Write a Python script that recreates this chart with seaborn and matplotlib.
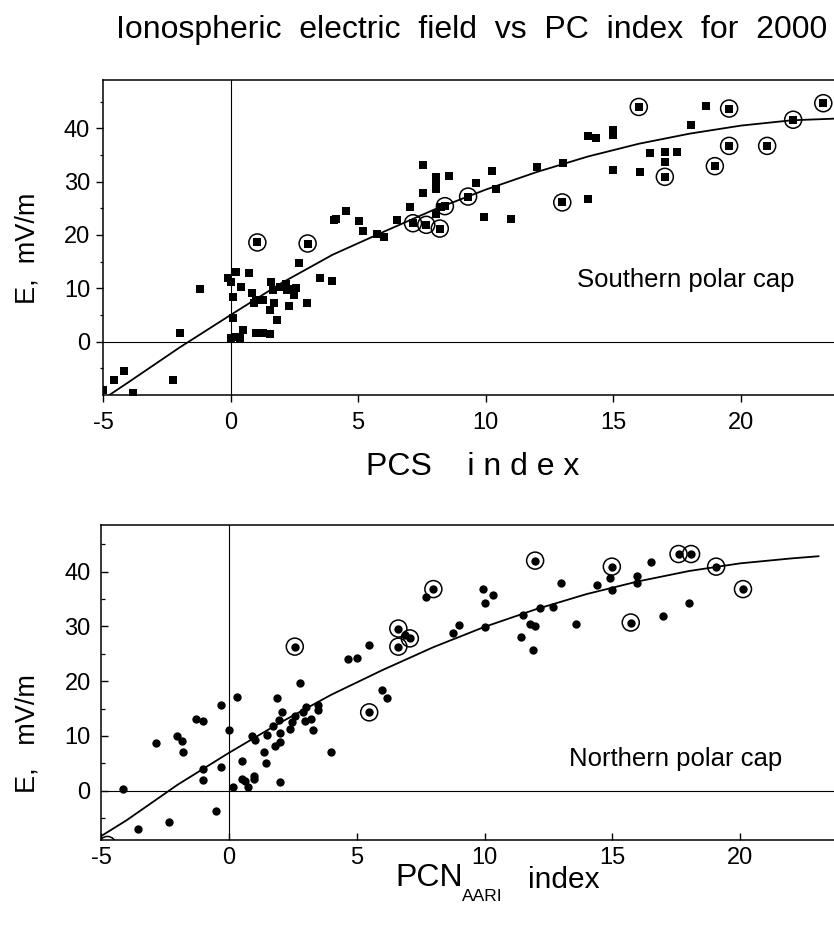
import numpy as np
import pandas as pd
import matplotlib
matplotlib.use("Agg")
import matplotlib.pyplot as plt
import seaborn as sns

# ---------------- data ----------------
# Southern polar cap (squares)
south_x = [-5.0, -4.55, -4.16, -3.83, -2.24, -2.0, -1.18, -0.09, 0.0, 0.2, 0.09, 0.42, 0.72, 0.09,
           0.0, 0.22, 0.35, 0.5, 0.84, 0.9, 1.0, 1.27, 1.0, 1.27, 1.53, 1.6, 1.66, 1.56, 1.72, 1.8,
           1.92, 2.16, 2.2, 2.35, 2.5, 2.5, 2.58, 2.3, 2.7, 3.0, 3.52, 3.99, 4.04, 4.14, 4.54, 5.02,
           5.2, 5.74, 6.0, 6.52, 7.02, 7.54, 7.54, 8.04, 8.04, 8.04, 8.55, 8.07, 8.26, 9.63, 10.26,
           10.42, 9.92, 11.0, 12.0, 13.03, 14.01, 14.01, 14.34, 15.0, 15.0, 15.0, 16.04, 16.43,
           17.02, 17.02, 17.5, 18.04, 18.63]
south_e = [-9.1, -7.1, -5.5, -9.6, -7.1, 1.6, 9.8, 11.9, 11.1, 13.1, 8.4, 10.3, 12.9, 4.4,
           0.6, 0.9, 0.6, 2.2, 9.2, 7.2, 7.8, 7.9, 1.7, 1.6, 1.4, 11.25, 9.7, 5.9, 7.2, 4.1,
           10.3, 10.9, 9.7, 9.8, 9.7, 8.75, 10.0, 6.6, 14.8, 7.2, 11.9, 11.4, 22.8, 22.9, 24.4, 22.7,
           20.8, 20.2, 19.7, 22.8, 25.3, 33.1, 27.9, 30.9, 29.4, 28.6, 31.1, 24.0, 25.3, 29.7, 31.9,
           28.6, 23.4, 23.0, 32.7, 33.4, 26.7, 38.6, 38.1, 39.7, 38.7, 32.2, 31.8, 35.3,
           35.6, 33.7, 35.6, 40.7, 44.2]
south_circ_x = [1.05, 3.02, 7.15, 7.67, 8.2, 8.4, 9.31, 13.0, 16.0, 17.02, 18.98, 19.54, 19.54,
                21.03, 22.05, 23.23]
south_circ_e = [18.6, 18.4, 22.2, 21.9, 21.2, 25.4, 27.2, 26.1, 44.0, 30.9, 32.9, 43.7, 36.7,
                36.7, 41.6, 44.7]
south_fit_x = [-4.75, -4, -2, 0, 2, 4, 6, 8, 10, 12, 14, 16, 18, 20, 22, 23.65]
south_fit_e = [-10.0, -7.6, -1.1, 5.0, 11.0, 16.3, 20.6, 24.8, 28.5, 31.8, 34.7, 37.1, 39.0,
               40.5, 41.5, 41.8]

# Northern polar cap (dots)
north_x = [-4.14, -3.55, -2.34, -2.83, -2.01, -1.85, -1.81, -1.3, -1.0, -1.03, -1.03, -0.52,
           -0.31, -0.31, 0.0, 0.17, 0.33, 0.5, 0.5, 0.65, 0.76, 0.98, 0.98, 0.89, 1.02, 1.38,
           1.47, 1.5, 1.8, 1.74, 1.89, 1.97, 2.0, 2.06, 2.0, 2.0, 2.41, 2.49, 2.58, 2.78, 2.91,
           3.01, 2.97, 3.2, 3.3, 3.5, 3.5, 3.99, 4.67, 5.02, 5.49, 5.98, 6.2, 6.89, 7.71, 8.78,
           9.01, 9.93, 10.32, 10.02, 10.02, 11.42, 11.52, 11.78, 11.98, 11.89, 12.17, 12.69,
           13.01, 13.58, 14.39, 14.89, 14.98, 15.98, 15.98, 16.5, 16.97, 17.98]
north_e = [0.3, -7.0, -5.7, 8.7, 9.9, 9.0, 7.0, 13.0, 12.7, 4.0, 2.0, -3.7,
           15.6, 4.3, 11.0, 0.7, 17.1, 5.5, 2.1, 1.8, 0.6, 2.7, 2.1, 9.9, 9.2, 7.0,
           5.1, 10.1, 8.2, 11.9, 17.0, 12.9, 10.5, 14.3, 8.9, 1.5, 11.3, 12.5, 13.7, 19.7, 14.3,
           15.3, 12.8, 13.1, 11.0, 15.6, 14.7, 7.0, 24.1, 24.3, 26.6, 18.3, 17.0, 28.4, 35.4, 28.8,
           30.2, 36.8, 35.7, 34.2, 29.9, 28.0, 32.1, 30.5, 30.0, 25.6, 33.3, 33.5,
           37.9, 30.4, 37.5, 38.8, 36.6, 39.2, 38.0, 41.8, 31.9, 34.3]
north_circ_x = [2.58, 5.49, 6.63, 6.63, 7.08, 8.0, 11.98, 14.98, 15.72, 17.59, 18.08, 19.06,
                20.11, -4.75]
north_circ_e = [26.3, 14.3, 29.6, 26.3, 27.8, 36.8, 42.0, 40.9, 30.7, 43.2, 43.2, 40.9,
                36.8, -9.9]
north_fit_x = [-5, -4, -2, 0, 2, 4, 6, 8, 10, 12, 14, 16, 18, 20, 22, 23.07]
north_fit_e = [-8.3, -5.4, 1.1, 6.9, 12.4, 17.5, 22.0, 26.2, 29.9, 33.1, 35.9, 38.2, 40.1,
               41.5, 42.4, 42.8]

x_ticks = [-5, 0, 5, 10, 15, 20]
y_ticks = [0, 10, 20, 30, 40]
y_minor = [-5, 5, 15, 25, 35, 45]

# ---------------- styling ----------------
sns.set_style("white")
plt.rcParams["font.family"] = ["Liberation Sans", "DejaVu Sans"]
plt.rcParams["axes.unicode_minus"] = False
plt.rcParams["text.color"] = "black"
plt.rcParams["axes.labelcolor"] = "black"
plt.rcParams["xtick.color"] = "black"
plt.rcParams["ytick.color"] = "black"

W, H = 834, 936
fig = plt.figure(figsize=(W / 100, H / 100), dpi=100)


def box(l, t, r, b):
    return [l / W, 1 - b / H, (r - l) / W, (b - t) / H]


def fx(px):
    return px / W


def fy(py):
    return 1 - py / H


ax1 = fig.add_axes(box(103, 80, 834, 395))
ax2 = fig.add_axes(box(101, 525, 834, 840))


def panel(ax, x, e, cx, ce, fitx, fite, marker, msize, xlim, ylim):
    ax.set_xlim(*xlim)
    ax.set_ylim(*ylim)
    ax.axvline(0, color="black", lw=0.8, zorder=1)
    ax.axhline(0, color="black", lw=0.8, zorder=1)
    sns.lineplot(x=fitx, y=fite, ax=ax, color="black", lw=1.3, sort=False,
                 estimator=None, zorder=2)
    sns.scatterplot(x=list(x) + list(cx), y=list(e) + list(ce), ax=ax, marker=marker,
                    s=msize, color="black", edgecolor="black", linewidth=0, zorder=3)
    sns.scatterplot(x=cx, y=ce, ax=ax, marker="o", s=150, facecolor="none",
                    edgecolor="black", linewidth=1.1, zorder=4)
    ax.set_xticks(x_ticks)
    ax.set_yticks(y_ticks)
    ax.set_yticks(y_minor, minor=True)
    ax.set_xlabel("")
    ax.set_ylabel("")
    for s in ax.spines.values():
        s.set_linewidth(1.1)
        s.set_color("black")
    ax.spines["right"].set_visible(False)


panel(ax1, south_x, south_e, south_circ_x, south_circ_e, south_fit_x, south_fit_e,
      "s", 40, (-5, 23.65), (-10, 49.05))
panel(ax2, north_x, north_e, north_circ_x, north_circ_e, north_fit_x, north_fit_e,
      "o", 36, (-5, 23.67), (-9.0, 48.5))

ax1.tick_params(axis="x", which="major", direction="out", length=5, width=1,
                labelsize=17, pad=7.5, bottom=True, labelcolor="black")
ax1.tick_params(axis="y", which="major", direction="out", length=5, width=1,
                labelsize=17, pad=4.3, left=True, labelcolor="black")
ax1.tick_params(axis="y", which="minor", direction="out", length=2.5, width=0.9, left=True)

ax2.tick_params(axis="x", which="major", direction="in", length=5, width=1,
                labelsize=17, pad=5, bottom=True, labelcolor="black")
ax2.tick_params(axis="y", which="major", direction="in", length=5, width=1,
                labelsize=17, pad=7.4, left=True, labelcolor="black")
ax2.tick_params(axis="y", which="minor", direction="in", length=3, width=0.9, left=True)

# ---------------- texts ----------------
fig.text(fx(472), fy(38), "Ionospheric  electric  field  vs  PC  index  for  2000",
         ha="center", va="baseline", fontsize=23)

fig.text(fx(28), fy(248), "E,  mV/m", rotation=90, ha="center", va="center", fontsize=19.5)
fig.text(fx(28), fy(734), "E,   mV/m", rotation=90, ha="center", va="center", fontsize=19.5)

fig.text(fx(473), fy(475), "PCS    i n d e x", ha="center", va="baseline", fontsize=23)

fig.text(fx(395), fy(886), "PCN", ha="left", va="baseline", fontsize=23)
fig.text(fx(462), fy(901), "AARI", ha="left", va="baseline", fontsize=12.5)
fig.text(fx(528), fy(888), "index", ha="left", va="baseline", fontsize=21.5)

fig.text(fx(577), fy(287), "Southern polar cap", ha="left", va="baseline", fontsize=18.5)
fig.text(fx(569), fy(766), "Northern polar cap", ha="left", va="baseline", fontsize=18.5)

fig.savefig("out.png", dpi=100)
